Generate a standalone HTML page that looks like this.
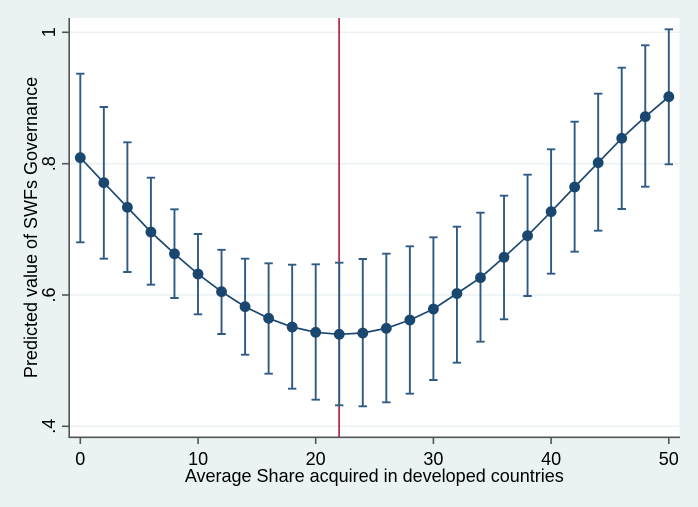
<!DOCTYPE html>
<html>
<head>
<meta charset="utf-8">
<style>
html,body{margin:0;padding:0;background:#EAF2F3;}
svg{display:block;}
text{font-family:"Liberation Sans",Arial,sans-serif;font-size:18px;fill:#000;}
</style>
</head>
<body>
<svg width="698" height="507" viewBox="0 0 698 507" xmlns="http://www.w3.org/2000/svg">
<rect x="0" y="0" width="698" height="507" fill="#EAF2F3"/>
<rect x="70" y="18" width="609.5" height="419" fill="#FFFFFF"/>
<!-- gridlines -->
<g stroke="#EAF2F3" stroke-width="1.5">
<line x1="70" y1="32.3" x2="679.5" y2="32.3"/>
<line x1="70" y1="163.7" x2="679.5" y2="163.7"/>
<line x1="70" y1="295" x2="679.5" y2="295"/>
<line x1="70" y1="426.3" x2="679.5" y2="426.3"/>
</g>
<!-- red xline -->
<line x1="339.1" y1="18" x2="339.1" y2="437" stroke="#B5173A" stroke-width="1.6"/>
<!-- axes -->
<g stroke="#555555" stroke-width="1.6">
<line x1="69.2" y1="18" x2="69.2" y2="438"/>
<line x1="68.4" y1="437.3" x2="680" y2="437.3"/>
<line x1="62" y1="32.3" x2="69" y2="32.3"/>
<line x1="62" y1="163.7" x2="69" y2="163.7"/>
<line x1="62" y1="295" x2="69" y2="295"/>
<line x1="62" y1="426.3" x2="69" y2="426.3"/>
<line x1="80.3" y1="437.3" x2="80.3" y2="444"/>
<line x1="198.1" y1="437.3" x2="198.1" y2="444"/>
<line x1="315.7" y1="437.3" x2="315.7" y2="444"/>
<line x1="433.4" y1="437.3" x2="433.4" y2="444"/>
<line x1="551.1" y1="437.3" x2="551.1" y2="444"/>
<line x1="668.8" y1="437.3" x2="668.8" y2="444"/>
</g>
<!-- error bars -->
<g stroke="#2F5A84" stroke-width="1.9" fill="none">
<path d="M80.3 73.7V242.3M76.1 73.7H84.5M76.1 242.3H84.5"/>
<path d="M103.84 107V258.7M99.64 107H108.04M99.64 258.7H108.04"/>
<path d="M127.38 142.3V272M123.18 142.3H131.58M123.18 272H131.58"/>
<path d="M150.92 177.7V284.7M146.72 177.7H155.12M146.72 284.7H155.12"/>
<path d="M174.46 209.3V298M170.26 209.3H178.66M170.26 298H178.66"/>
<path d="M198 234V314.3M193.8 234H202.2M193.8 314.3H202.2"/>
<path d="M221.54 249.8V334M217.34 249.8H225.74M217.34 334H225.74"/>
<path d="M245.08 258.7V354.7M240.88 258.7H249.28M240.88 354.7H249.28"/>
<path d="M268.62 263.3V373.7M264.42 263.3H272.82M264.42 373.7H272.82"/>
<path d="M292.16 264.7V388.7M287.96 264.7H296.36M287.96 388.7H296.36"/>
<path d="M315.7 264.3V399.7M311.5 264.3H319.9M311.5 399.7H319.9"/>
<path d="M339.24 262.7V405.3M335.04 262.7H343.44M335.04 405.3H343.44"/>
<path d="M362.78 259V406.3M358.58 259H366.98M358.58 406.3H366.98"/>
<path d="M386.32 253.7V402.3M382.12 253.7H390.52M382.12 402.3H390.52"/>
<path d="M409.86 246.3V393.7M405.66 246.3H414.06M405.66 393.7H414.06"/>
<path d="M433.4 237.3V380M429.2 237.3H437.6M429.2 380H437.6"/>
<path d="M456.94 226.7V362.7M452.74 226.7H461.14M452.74 362.7H461.14"/>
<path d="M480.48 212.7V341.7M476.28 212.7H484.68M476.28 341.7H484.68"/>
<path d="M504.02 195.7V319.3M499.82 195.7H508.22M499.82 319.3H508.22"/>
<path d="M527.56 174.7V296M523.36 174.7H531.76M523.36 296H531.76"/>
<path d="M551.1 149.3V273.7M546.9 149.3H555.3M546.9 273.7H555.3"/>
<path d="M574.64 121.7V251.7M570.44 121.7H578.84M570.44 251.7H578.84"/>
<path d="M598.18 93.7V230.7M593.98 93.7H602.38M593.98 230.7H602.38"/>
<path d="M621.72 67.7V209M617.52 67.7H625.92M617.52 209H625.92"/>
<path d="M645.26 45.3V186.7M641.06 45.3H649.46M641.06 186.7H649.46"/>
<path d="M668.8 29.3V164.3M664.6 29.3H673M664.6 164.3H673"/>
</g>
<!-- connecting line -->
<polyline fill="none" stroke="#1A476F" stroke-width="1.7" points="80.3,157.7 103.84,182.7 127.38,207.3 150.92,232 174.46,253.8 198,274 221.54,291.7 245.08,306.7 268.62,318.3 292.16,327 315.7,332.3 339.24,334.3 362.78,333 386.32,328.3 409.86,320 433.4,309 456.94,293.5 480.48,277.7 504.02,257.3 527.56,235.7 551.1,211.7 574.64,187 598.18,162.7 621.72,138.3 645.26,116.7 668.8,96.7"/>
<!-- markers -->
<g fill="#1A476F">
<circle cx="80.3" cy="157.7" r="5.4"/>
<circle cx="103.84" cy="182.7" r="5.4"/>
<circle cx="127.38" cy="207.3" r="5.4"/>
<circle cx="150.92" cy="232" r="5.4"/>
<circle cx="174.46" cy="253.8" r="5.4"/>
<circle cx="198" cy="274" r="5.4"/>
<circle cx="221.54" cy="291.7" r="5.4"/>
<circle cx="245.08" cy="306.7" r="5.4"/>
<circle cx="268.62" cy="318.3" r="5.4"/>
<circle cx="292.16" cy="327" r="5.4"/>
<circle cx="315.7" cy="332.3" r="5.4"/>
<circle cx="339.24" cy="334.3" r="5.4"/>
<circle cx="362.78" cy="333" r="5.4"/>
<circle cx="386.32" cy="328.3" r="5.4"/>
<circle cx="409.86" cy="320" r="5.4"/>
<circle cx="433.4" cy="309" r="5.4"/>
<circle cx="456.94" cy="293.5" r="5.4"/>
<circle cx="480.48" cy="277.7" r="5.4"/>
<circle cx="504.02" cy="257.3" r="5.4"/>
<circle cx="527.56" cy="235.7" r="5.4"/>
<circle cx="551.1" cy="211.7" r="5.4"/>
<circle cx="574.64" cy="187" r="5.4"/>
<circle cx="598.18" cy="162.7" r="5.4"/>
<circle cx="621.72" cy="138.3" r="5.4"/>
<circle cx="645.26" cy="116.7" r="5.4"/>
<circle cx="668.8" cy="96.7" r="5.4"/>
</g>
<!-- y tick labels (rotated) -->
<text text-anchor="middle" transform="translate(55,32.3) rotate(-90)">1</text>
<text text-anchor="middle" transform="translate(55,163.7) rotate(-90)">.8</text>
<text text-anchor="middle" transform="translate(55,295) rotate(-90)">.6</text>
<text text-anchor="middle" transform="translate(55,426.3) rotate(-90)">.4</text>
<!-- y title -->
<text text-anchor="middle" transform="translate(36.8,227.5) rotate(-90)">Predicted value of SWFs Governance</text>
<!-- x tick labels -->
<text text-anchor="middle" x="80.3" y="465">0</text>
<text text-anchor="middle" x="198.1" y="465">10</text>
<text text-anchor="middle" x="315.7" y="465">20</text>
<text text-anchor="middle" x="433.4" y="465">30</text>
<text text-anchor="middle" x="551.1" y="465">40</text>
<text text-anchor="middle" x="668.8" y="465">50</text>
<!-- x title -->
<text text-anchor="middle" x="374.3" y="482">Average Share acquired in developed countries</text>
</svg>
</body>
</html>
